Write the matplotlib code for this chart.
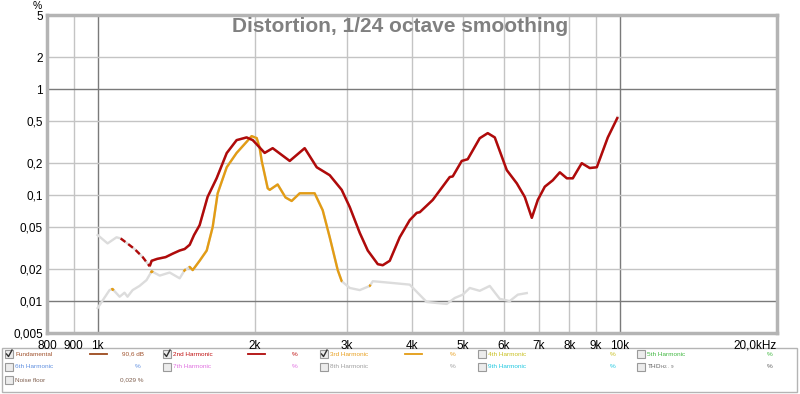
import numpy as np
import matplotlib
matplotlib.use('Agg')
import matplotlib.pyplot as plt
from matplotlib.patches import Rectangle

plt.rcParams['font.family'] = ['Liberation Sans', 'DejaVu Sans']

# 2nd harmonic, %
h2_freq = [1000, 1045, 1087, 1107, 1140, 1177, 1220, 1258, 1269, 1300, 1350, 1392, 1436, 1468,
           1501, 1530, 1568, 1624, 1690, 1767, 1846, 1929, 1982, 2089, 2164, 2333, 2492, 2628,
           2783, 2934, 3040, 3177, 3291, 3440, 3516, 3626, 3789, 3960, 4085, 4140, 4383, 4724,
           4787, 4981, 5114, 5392, 5586, 5762, 6075, 6350, 6577, 6784, 6966, 7184, 7442, 7676,
           7917, 8128, 8455, 8759, 9035, 9485, 9912]
h2_vals = [0.042, 0.035, 0.040, 0.039, 0.035, 0.031, 0.026, 0.0213, 0.024, 0.025, 0.026, 0.028,
           0.030, 0.031, 0.034, 0.042, 0.052, 0.096, 0.144, 0.249, 0.33, 0.35, 0.33, 0.25, 0.277,
           0.21, 0.277, 0.183, 0.154, 0.112, 0.077, 0.044, 0.030, 0.0223, 0.0218, 0.024, 0.040,
           0.058, 0.068, 0.069, 0.090, 0.148, 0.15, 0.21, 0.218, 0.344, 0.384, 0.35, 0.172, 0.129,
           0.096, 0.061, 0.09, 0.12, 0.138, 0.164, 0.144, 0.144, 0.20, 0.18, 0.183, 0.35, 0.545]

# 3rd harmonic, %
h3_freq = [1000, 1054, 1068, 1102, 1126, 1141, 1167, 1203, 1241, 1269, 1315, 1374, 1436, 1468,
           1501, 1521, 1568, 1618, 1661, 1698, 1767, 1846, 1929, 1972, 2017, 2043, 2062, 2117,
           2136, 2212, 2290, 2353, 2438, 2604, 2698, 2783, 2883, 2934, 3040, 3177, 3320, 3365,
           3626, 3960, 4268, 4662, 4830, 5003, 5160, 5392, 5636, 5890, 6155, 6378, 6635]
h3_vals = [0.0086, 0.0127, 0.013, 0.011, 0.012, 0.011, 0.0127, 0.0139, 0.0158, 0.0191, 0.0174,
           0.0186, 0.0164, 0.0196, 0.021, 0.0196, 0.024, 0.030, 0.05, 0.104, 0.183, 0.25, 0.318,
           0.36, 0.345, 0.28, 0.21, 0.116, 0.112, 0.126, 0.095, 0.088, 0.104, 0.104, 0.072, 0.04,
           0.0196, 0.0154, 0.0133, 0.0127, 0.0139, 0.0154, 0.0149, 0.0143, 0.0098, 0.0094, 0.0107,
           0.0115, 0.0133, 0.0125, 0.0139, 0.0105, 0.01, 0.0115, 0.0119]

# frequency ranges where each harmonic is above the noise (coloured), elsewhere grey
h2_solid = [(1258, 9912)]
h2_dashed = [(1107, 1258)]
h3_solid = [(1062, 1074), (1264, 1278), (1462, 1476), (1495, 2940), (3310, 3332)]

y_ticks = [0.005, 0.01, 0.02, 0.05, 0.1, 0.2, 0.5, 1, 2, 5]
y_labels = ['0,005', '0,01', '0,02', '0,05', '0,1', '0,2', '0,5', '1', '2', '5']
x_ticks = [800, 900, 1000, 2000, 3000, 4000, 5000, 6000, 7000, 8000, 9000, 10000, 20000]
x_labels = ['800', '900', '1k', '2k', '3k', '4k', '5k', '6k', '7k', '8k', '9k', '10k', '20,0kHz']

RED = '#b00a0a'
ORANGE = '#e39c14'
GREY = '#dcdcdc'


def segment(freq, vals, lo, hi):
    # original points inside the range plus the interpolated range ends
    lf = np.log10(freq)
    lv = np.log10(vals)
    inner = [(f, v) for f, v in zip(freq, vals) if lo < f < hi]
    ends = [10 ** np.interp(np.log10(x), lf, lv) for x in (lo, hi)]
    f = [lo] + [p[0] for p in inner] + [hi]
    v = [ends[0]] + [p[1] for p in inner] + [ends[1]]
    return f, v


fig = plt.figure(figsize=(8, 3.94), dpi=100)
ax = fig.add_axes([47 / 800, 1 - 333 / 394, 730 / 800, 318 / 394])
ax.set_xscale('log')
ax.set_yscale('log')
ax.set_xlim(800, 20000)
ax.set_ylim(0.005, 5)

# grid
for f in [900, 2000, 3000, 4000, 5000, 6000, 7000, 8000, 9000]:
    ax.axvline(f, color='#c4c4c4', lw=1, zorder=1)
for f in [1000, 10000]:
    ax.axvline(f, color='#7a7a7a', lw=1, zorder=1)
for v in [2, 0.5, 0.2, 0.1, 0.05, 0.02]:
    ax.axhline(v, color='#c4c4c4', lw=1, zorder=1)
for v in [1, 0.01]:
    ax.axhline(v, color='#7a7a7a', lw=1, zorder=1)

# grey (below noise) curves
ax.plot(h2_freq, h2_vals, color=GREY, lw=1.7, zorder=2)
ax.plot(h3_freq, h3_vals, color=GREY, lw=1.7, zorder=2)

for lo, hi in h3_solid:
    f, v = segment(h3_freq, h3_vals, lo, hi)
    ax.plot(f, v, color=ORANGE, lw=1.7, zorder=3, solid_capstyle='butt')
for lo, hi in h2_dashed:
    f, v = segment(h2_freq, h2_vals, lo, hi)
    ax.plot(f, v, color=RED, lw=1.7, zorder=4, linestyle=(0, (2.5, 1.5)))
for lo, hi in h2_solid:
    f, v = segment(h2_freq, h2_vals, lo, hi)
    ax.plot(f, v, color=RED, lw=1.8, zorder=4, solid_capstyle='butt')

ax.set_yticks(y_ticks)
ax.set_yticklabels(y_labels)
ax.set_xticks(x_ticks)
ax.set_xticklabels(x_labels)
ax.minorticks_off()
ax.tick_params(length=0, labelsize=8.5, colors='black', pad=5)
ax.tick_params(axis='y', pad=3)
xl = ax.get_xticklabels()
xl[-1].set_horizontalalignment('right')
for s in ax.spines.values():
    s.set_color('#b4b4b4')
    s.set_linewidth(2.5)

fig.text(400 / 800, 1 - 27 / 394, 'Distortion, 1/24 octave smoothing',
         ha='center', va='center', fontsize=15, fontweight='bold', color='#808080')
fig.text(37 / 800, 1 - 6 / 394, '%', ha='center', va='center', fontsize=7.5)

# legend panel drawn in pixel coordinates
lg = fig.add_axes([0, 0, 1, 1], zorder=-1)
lg.set_xlim(0, 800)
lg.set_ylim(394, 0)
lg.axis('off')
lg.add_patch(Rectangle((2, 348), 795, 44, fill=False, edgecolor='#b4b4b4', lw=1))

legend_items = [
    (5, 354, True, 'Fundamental', '#a0522d', '#9c4a1c', '90,6 dB', 122),
    (163, 354, True, '2nd Harmonic', '#c01010', RED, '%', 295),
    (320, 354, True, '3rd Harmonic', '#e8a020', ORANGE, '%', 453),
    (478, 354, False, '4th Harmonic', '#c8c020', None, '%', 613),
    (637, 354, False, '5th Harmonic', '#40b840', None, '%', 770),
    (5, 367, False, '6th Harmonic', '#6090e0', None, '%', 138),
    (163, 367, False, '7th Harmonic', '#e070e0', None, '%', 295),
    (320, 367, False, '8th Harmonic', '#a0a0a0', None, '%', 453),
    (478, 367, False, '9th Harmonic', '#20c8e0', None, '%', 613),
    (637, 367, False, 'THD$_{\\mathregular{H2..9}}$', '#606060', None, '%', 770),
    (5, 380, False, 'Noise floor', '#806050', None, '0,029 %', 120),
]
for x, y, checked, label, tcol, lcol, val, vx in legend_items:
    lg.add_patch(Rectangle((x, y - 4), 8, 8, facecolor='#ececec', edgecolor='#9a9a9a', lw=0.8))
    if checked:
        lg.plot([x + 1.5, x + 3.5, x + 7], [y, y + 2.5, y - 4], color='#303030', lw=1)
    lg.text(x + 10, y, label, fontsize=4.6, color=tcol, va='center', ha='left')
    if lcol:
        lg.plot([x + 85, x + 102], [y, y], color=lcol, lw=1.3)
    if val == '%':
        lg.text(vx, y, val, fontsize=4.6, color=tcol, va='center', ha='center')
    else:
        lg.text(vx, y, val, fontsize=4.6, color=tcol, va='center', ha='left')

fig.savefig('out.png', dpi=100)
